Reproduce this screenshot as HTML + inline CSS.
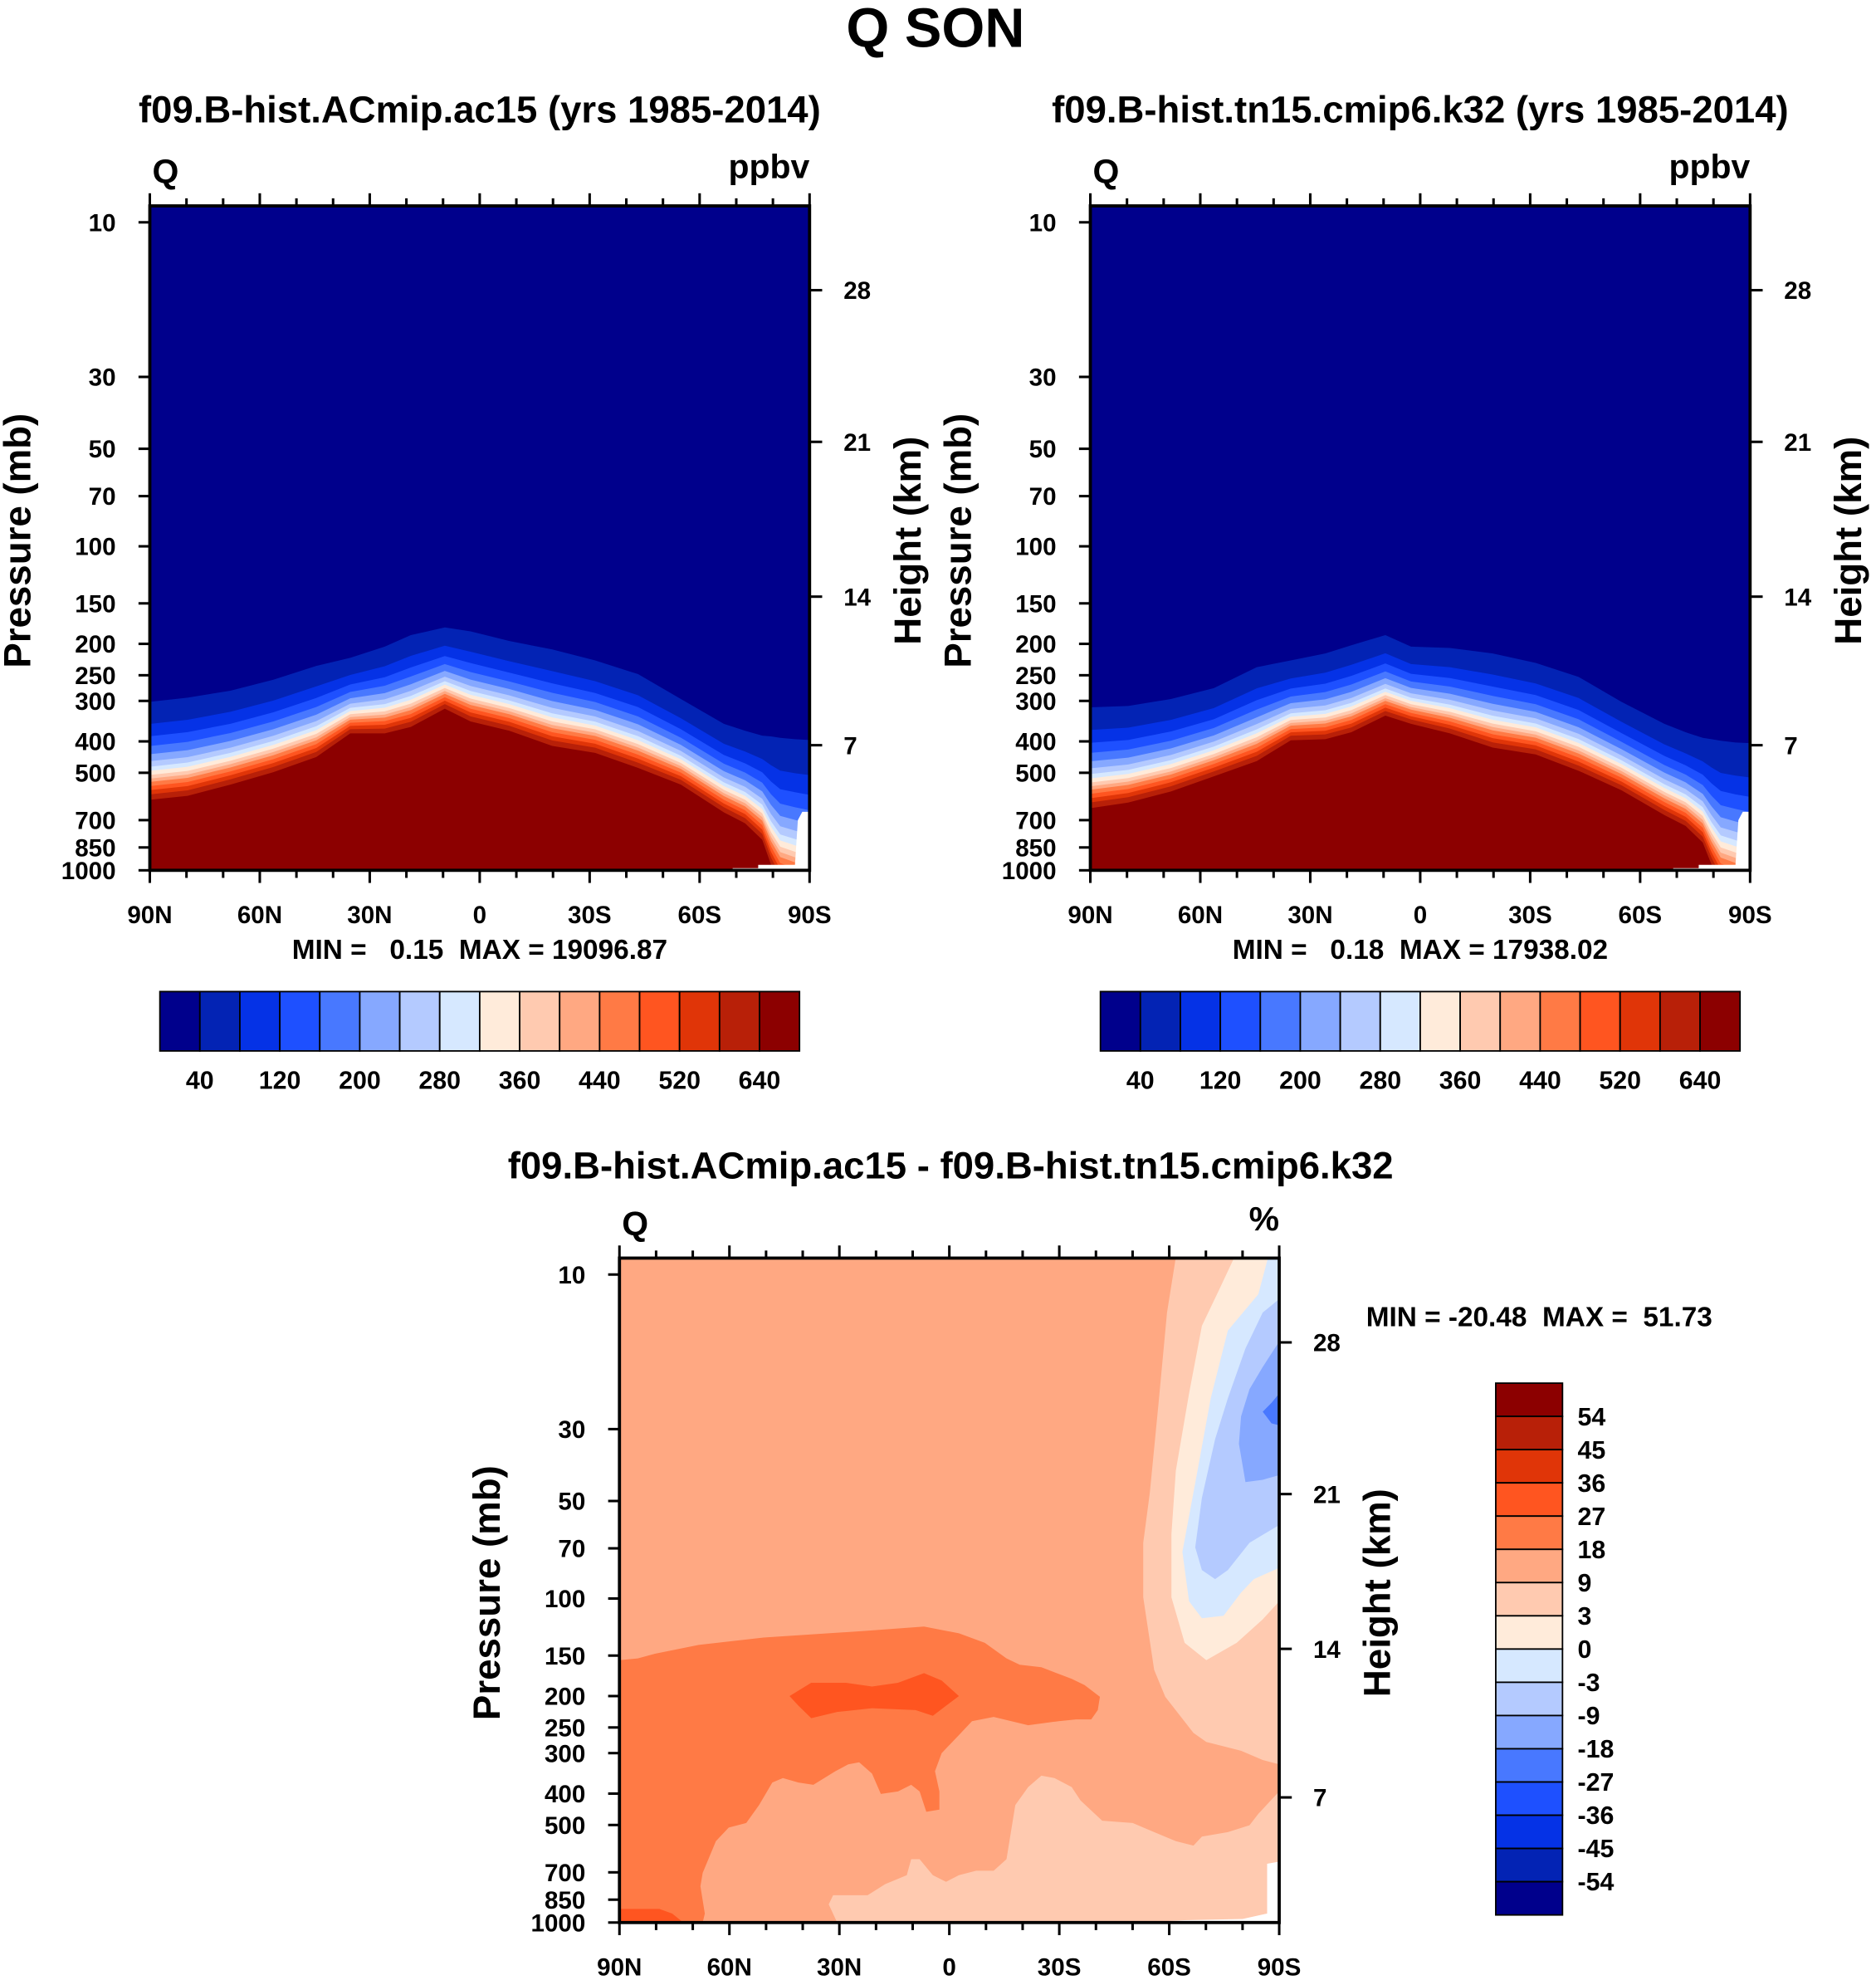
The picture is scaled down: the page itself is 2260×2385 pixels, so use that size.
<!DOCTYPE html>
<html><head><meta charset="utf-8"><style>
html,body{margin:0;padding:0;background:#fff}
svg{display:block}
text{font-family:"Liberation Sans",sans-serif;font-weight:bold;fill:#000;white-space:pre}
</style></head><body>
<svg id="fig" width="2260" height="2385" viewBox="0 0 1490 1567.5" preserveAspectRatio="none" xmlns="http://www.w3.org/2000/svg" xml:space="preserve">
<defs>
<clipPath id="c1"><rect x="119" y="163" width="524" height="526"/></clipPath>
<clipPath id="c2"><rect x="866" y="163" width="524" height="526"/></clipPath>
<clipPath id="c3"><rect x="492" y="996" width="524" height="526"/></clipPath>
</defs>
<text x="743" y="37" font-size="44" text-anchor="middle">Q SON</text>
<g id="g1"></g>
<g id="g2"></g>
<g id="g3"></g>
</svg>
<script>
const NS="http://www.w3.org/2000/svg";
const colors=["#00008C","#0323B4","#0532E6","#1E50FF","#4878FF","#86A8FF","#B4CAFF","#D6E8FF","#FFEBDA","#FFCAB0","#FFA882","#FF7A45","#FF5520","#E03508","#B82008","#8C0000"];
// top panels data
const lats=[90,79.7,68,56.3,44.6,35.3,25.9,18.8,9.5,2.5,-8.1,-19.8,-31.5,-43.2,-54.9,-66.6,-72.4,-77.1,-79.5,-82,-86,-90];
const outer1=[302,293,279,258,234,221,204,188,178,183,196,208,225,248,296,353,371,384,386,390,394,396];
const red1=[606,589,544,498,447,378,378,361,317,347,371,413,434,483,544,662,716,805,961,1100,1150,1200];
const outer2=[314,311,296,274,236,225,214,202,188,204,206,214,229,253,302,353,375,390,394,398,403,405];
const red2=[643,618,571,513,460,397,394,375,333,353,378,418,439,493,566,675,730,821,961,1100,1150,1200];
const levelFrac=[0,.225,.352,.451,.535,.606,.662,.704,.746,.783,.817,.859,.901,.944,1];
const whiteMask=[[-51.2,1100],[-69,1100],[-69,985],[-76,985],[-76,962],[-86,962],[-86.8,700],[-88,660],[-90,660],[-90,1100]];
const pLabels=[10,30,50,70,100,150,200,250,300,400,500,700,850,1000];
const hLabels=[7,14,21,28];
const hPress=[411,143,47.6,16.2];
const latTicks=[90,60,30,0,-30,-60,-90];
const latNames=["90N","60N","30N","0","30S","60S","90S"];
const cbTop=["40","120","200","280","360","440","520","640"];
const cbDiff=["54","45","36","27","18","9","3","0","-3","-9","-18","-27","-36","-45","-54"];
// difference panel polygons [lat, pressure]
const polyOrange=[[90,155],[85,153],[80.3,148],[68.4,139],[50.7,132],[23.4,126],[6.9,122],[-2.6,128],[-9.7,137],[-15.6,153],[-19.2,160],[-25.1,163],[-33.4,177],[-36.9,185],[-41.1,201],[-40.5,221],[-38.7,236],[-34.6,236],[-29.8,239],[-21.5,246],[-12.1,232],[-6.2,239],[-2.6,264],[2.1,300],[3.9,341],[2.7,394],[2.7,448],[6.3,455],[8.1,394],[10.4,376],[14,394],[18.7,401],[21.1,347],[24.6,320],[27.6,325],[31.1,341],[37.1,376],[41.2,370],[45.4,358],[48.3,370],[51.9,434],[55.4,493],[60.2,509],[63.7,561],[67.3,703],[67.9,773],[66.7,938],[67.3,1000],[67.3,1100],[90,1100]];
const polyRed=[[43.6,200],[37.7,182],[28.2,182],[21.1,187],[14,182],[6.9,170],[2.1,179],[-2.6,200],[4.5,230],[9.2,221],[21.1,218],[30.6,224],[37.7,234],[41.2,214]];
const polyRed2=[[90,908],[79.1,908],[75.6,938],[72.6,1000],[72.6,1100],[90,1100]];
const polyPeachUp=[[-62.4,8],[-59.4,13.1],[-57.1,24.9],[-54.7,47.3],[-52.9,67.3],[-52.9,99.1],[-55.9,166],[-58.9,201],[-66.6,260],[-70.1,277],[-79.6,295],[-85.5,315],[-90,325],[-90,8]];
const polyPeachLow=[[-90,394],[-84.3,462],[-81.9,501],[-76,526],[-68.9,543],[-66.6,579],[-61.8,561],[-55.9,526],[-50,493],[-41.7,485],[-35.8,420],[-33.4,382],[-28.7,358],[-25.1,352],[-21.5,382],[-18,434],[-16.8,526],[-15.6,638],[-12.1,692],[-7.3,692],[-2.6,714],[0.9,749],[4.5,714],[8.1,638],[10.4,638],[11.6,714],[17.5,761],[22.3,824],[31.7,824],[32.9,879],[30.6,1000],[30.6,1100],[-90,1100]];
const polyCream=[[-79.6,8],[-73.7,11.1],[-68.9,14.4],[-65.4,23.3],[-61.8,40.3],[-60.6,63.2],[-60.6,99.1],[-64.2,137],[-70.1,155],[-78.4,137],[-85.5,116],[-90,102],[-90,8]];
const polyLB=[[-88,8],[-84.3,11.5],[-76,14.9],[-71.3,24.1],[-67.7,40.3],[-63.6,71.8],[-65.4,102],[-68.9,115],[-74.8,113],[-79.6,95.9],[-83.1,87.1],[-90,80.4],[-90,8]];
const polyLB2=[[-90,11.9],[-85.5,13.1],[-80.8,16.9],[-76,24.1],[-72.5,32.2],[-68.9,48.9],[-67.1,69.5],[-68.9,81.7],[-72.5,87.1],[-76,81.7],[-81.9,67.3],[-90,59.3]];
const polyB=[[-90,16.1],[-85.5,19.3],[-81.9,22.6],[-79.6,27.4],[-79,33.3],[-80.8,43.7],[-85.5,43],[-90,41.6]];
const polyB2=[[-90,23.3],[-87.9,24.9],[-85.5,26.5],[-87.9,28.8],[-90,29.2]];
const polyWhite=[[-51.2,1100],[-51.2,1000],[-64.2,984],[-80,975],[-86.7,938],[-86.7,659],[-90,649],[-90,1100]];

function el(tag,attrs,parent){const e=document.createElementNS(NS,tag);for(const k in attrs)e.setAttribute(k,attrs[k]);parent.appendChild(e);return e;}
function txt(parent,x,y,s,size,anchor,name){const t=el('text',{x:x,y:y,'font-size':size,'text-anchor':anchor||'start'},parent);t.textContent=s;


return t;}
function mkAxes(x0,y10){
  return {X:lat=>x0+(90-lat)/180*524, Y:p=>y10+(Math.log10(p)-1)*256.5};
}
function polyStr(A,pts){return pts.map(q=>A.X(q[0]).toFixed(1)+','+A.Y(q[1]).toFixed(1)).join(' ');}

function frame(g,x0,yT,A,unit,title,titleX,titleY){
  txt(g,titleX,titleY,title,30,'middle','panel-title');
  txt(g,x0+2,yT-18,'Q',27,'start','variable-label');
  txt(g,x0+524,yT-22,unit,27,'end','units-label');
  el('rect',{x:x0,y:yT,width:524,height:526,fill:'none',stroke:'#000','stroke-width':2.5},g);
  for(let i=0;i<pLabels.length;i++){const y=A.Y(pLabels[i]);
    el('line',{x1:x0,x2:x0-9,y1:y,y2:y,stroke:'#000','stroke-width':2},g);
    txt(g,x0-27,y+7,String(pLabels[i]),19.5,'end','pressure-tick-label');}
  for(let i=0;i<hLabels.length;i++){const y=A.Y(hPress[i]);
    el('line',{x1:x0+524,x2:x0+534,y1:y,y2:y,stroke:'#000','stroke-width':2},g);
    txt(g,x0+551,y+7,String(hLabels[i]),19.5,'start','height-tick-label');}
  for(let lat=90;lat>=-90;lat-=10){const x=A.X(lat);const major=lat%30===0;const L=major?10:6;
    el('line',{x1:x,x2:x,y1:yT,y2:yT-L,stroke:'#000','stroke-width':2},g);
    el('line',{x1:x,x2:x,y1:yT+526,y2:yT+526+L,stroke:'#000','stroke-width':2},g);}
  for(let i=0;i<latTicks.length;i++)txt(g,A.X(latTicks[i]),yT+526+42,latNames[i],19.5,'middle','latitude-tick-label');
  const cy=yT+265;
  let t=txt(g,0,0,'Pressure (mb)',30,'middle','y-axis-title');t.setAttribute('transform',`translate(${x0-95},${cy}) rotate(-90)`);
  t=txt(g,0,0,'Height (km)',30,'middle','right-axis-title');t.setAttribute('transform',`translate(${x0+612},${cy}) rotate(-90)`);
}

function topPanel(id,x0,outer,red,title,minmax,clip){
  const g=document.getElementById(id);const A=mkAxes(x0,176);
  const cg=el('g',{'clip-path':`url(#${clip})`},g);
  const bg=el('rect',{x:x0,y:163,width:524,height:526,fill:colors[0]},cg);
  
  
  for(let k=0;k<levelFrac.length;k++){
    const pts=lats.map((la,i)=>{const lo=Math.log10(outer[i]),lr=Math.log10(red[i]);return [la,Math.pow(10,lo+levelFrac[k]*(lr-lo))];});
    pts.push([-90,1300],[90,1300]);
    const p=el('polygon',{points:polyStr(A,pts),fill:colors[k+1]},cg);
    
    
  }
  const w=el('polygon',{points:polyStr(A,whiteMask),fill:'#fff'},cg);
  
  
  frame(g,x0,163,A,'ppbv',title,x0+262,97);
  txt(g,x0+262,759,minmax,22,'middle','min-max-label');
  const cb=el('g',{},g);
  
  
  const bx=x0+8,bw=508/16;
  for(let i=0;i<16;i++){const r=el('rect',{x:bx+i*bw,y:785,width:bw,height:47,fill:colors[i],stroke:'#000','stroke-width':1.2},cb);
    
    }
  for(let i=0;i<cbTop.length;i++)txt(cb,bx+(2*i+1)*bw,862,cbTop[i],20,'middle','colorbar-label');
}
topPanel('g1',119,outer1,red1,'f09.B-hist.ACmip.ac15 (yrs 1985-2014)','MIN =   0.15  MAX = 19096.87','c1');
topPanel('g2',866,outer2,red2,'f09.B-hist.tn15.cmip6.k32 (yrs 1985-2014)','MIN =   0.18  MAX = 17938.02','c2');

(function(){
  const g=document.getElementById('g3');const x0=492;const A=mkAxes(x0,1009);
  const cg=el('g',{'clip-path':'url(#c3)'},g);
  const bg=el('rect',{x:x0,y:996,width:524,height:526,fill:colors[10]},cg);
  
  
  const list=[[polyOrange,11,'band-18-27'],[polyRed,12,'band-27-36'],[polyRed2,12,'band-27-36-surface'],[polyPeachUp,9,'band-3-9-upper'],[polyPeachLow,9,'band-3-9-lower'],[polyCream,8,'band-0-3'],[polyLB,7,'band-neg3-0'],[polyLB2,6,'band-neg9-neg3'],[polyB,5,'band-neg18-neg9'],[polyB2,4,'band-neg27-neg18']];
  for(const [pts,ci,nm] of list){const p=el('polygon',{points:polyStr(A,pts),fill:colors[ci]},cg);
    
    }
  const w=el('polygon',{points:polyStr(A,polyWhite),fill:'#fff'},cg);
  
  
  frame(g,x0,996,A,'%','f09.B-hist.ACmip.ac15 - f09.B-hist.tn15.cmip6.k32',755,933);
  txt(g,1085,1050,'MIN = -20.48  MAX =  51.73',22,'start','min-max-label');
  const cb=el('g',{},g);
  
  
  const bh=421/16;
  for(let i=0;i<16;i++){const r=el('rect',{x:1188,y:1095+i*bh,width:53,height:bh,fill:colors[15-i],stroke:'#000','stroke-width':1.2},cb);
    
    }
  for(let i=0;i<cbDiff.length;i++)txt(cb,1253,1095+(i+1)*bh+7,cbDiff[i],20,'start','colorbar-label');
})();
</script>
</body></html>
